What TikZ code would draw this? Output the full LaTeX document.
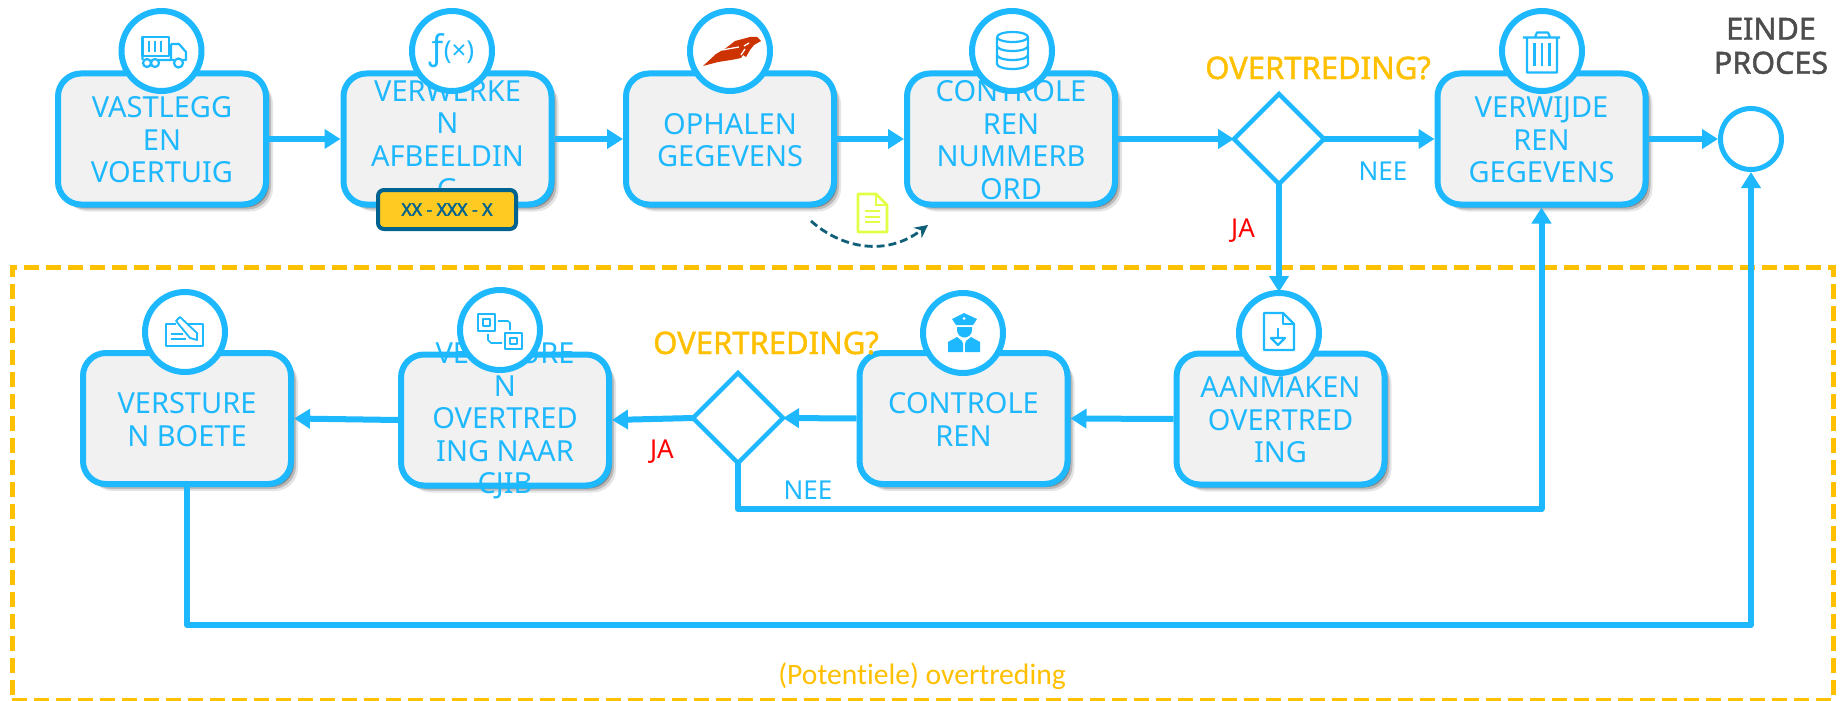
\documentclass[tikz,border=0pt]{standalone}
\usepackage{fontspec}
\setmainfont{Noto Sans}
\newfontfamily\calfont[Ligatures=NoCommon]{Carlito}
\newfontfamily\heavyfont[FakeBold=1.4]{Noto Sans}
\newfontfamily\platefont[FakeBold=2.6]{Noto Sans}
\usetikzlibrary{arrows.meta,shapes.geometric,shadows,calc}
\definecolor{flow}{HTML}{1EB8FF}
\definecolor{boxfill}{HTML}{F1F1F1}
\definecolor{amber}{HTML}{FFC000}
\definecolor{plateblue}{HTML}{00628F}
\definecolor{platefill}{HTML}{FFCA22}
\definecolor{curveblue}{HTML}{0F5F78}
\definecolor{docgreen}{HTML}{E2FF45}
\definecolor{featherred}{HTML}{CC3300}
\definecolor{endgrey}{HTML}{4D4D4D}
\tikzset{
  x=1pt,y=-1pt,
  taskbox/.style={draw=flow,line width=6pt,fill=boxfill,rounded corners=23pt,minimum width=208pt,minimum height=131pt,
    drop shadow={shadow xshift=7pt,shadow yshift=-7pt,fill=black,opacity=.10},
    drop shadow={shadow xshift=5pt,shadow yshift=-5pt,fill=black,opacity=.18},
    drop shadow={shadow xshift=3pt,shadow yshift=-3pt,fill=black,opacity=.28}},
  tasklabel/.style={text=flow,align=center,inner sep=0pt,yshift=-1pt,font=\fontsize{29}{32.6}\selectfont},
  iconring/.style={circle,draw=flow,line width=6pt,fill=white,minimum size=80pt,inner sep=0pt},
  decision/.style={diamond,draw=flow,line width=4.5pt,fill=white,minimum width=90pt,minimum height=90pt,inner sep=0pt,aspect=1,outer sep=0pt},
  flowline/.style={draw=flow,line width=6pt,line join=round,-{Triangle[length=16pt,width=19pt]}},
  question/.style={text=amber,inner sep=0pt,font=\heavyfont\fontsize{31}{36}\selectfont},
  yeslabel/.style={text=red,inner sep=0pt,font=\fontsize{26}{30}\selectfont},
  nolabel/.style={text=flow,inner sep=0pt,font=\fontsize{26}{30}\selectfont},
  iconline/.style={draw=flow,line width=2.2pt,line join=round},
}
\begin{document}
\begin{tikzpicture}
\useasboundingbox (0,0) rectangle (1845,701);
\fill[white] (0,0) rectangle (1845,701);

% dashed region
\node[draw=amber,line width=5pt,dash pattern=on 15pt off 7pt,minimum width=1821pt,minimum height=433pt,inner sep=0pt,outer sep=0pt] (region) at (922.5,483.5) {};
\node[text=amber,inner sep=0pt,font=\calfont\fontsize{29.6}{34}\selectfont] (regionlabel) at (922,676) {(Potentiele) overtreding};

% boxes
\node[taskbox] (b1) at (162,139) {};
\node[taskbox] (b2) at (447.5,139) {};
\node[taskbox] (b3) at (730,139) {};
\node[taskbox] (b4) at (1011,139) {};
\node[taskbox] (b5) at (1541.5,139) {};
\node[taskbox] (b6) at (187,418.5) {};
\node[taskbox] (b7) at (505,420) {};
\node[taskbox] (b8) at (963.5,418.5) {};
\node[taskbox] (b9) at (1280.5,419) {};
\node[decision] (d1) at (1279,139) {};
\node[decision] (d2) at (738,418) {};
\node[circle,draw=flow,line width=5pt,fill=white,minimum size=61pt,inner sep=0pt] (endc) at (1751,139) {};
\coordinate (c1) at (738,509);
\coordinate (c2) at (187,625);

% connectors
\draw[flowline] (b1.east) -- (b2.west);
\draw[flowline] (b2.east) -- (b3.west);
\draw[flowline] (b3.east) -- (b4.west);
\draw[flowline] (b4.east) -- (d1.west);
\draw[flowline] (d1.east) -- (b5.west);
\draw[flowline] (b5.east) -- (endc.west);
\draw[flowline] (d1.south) -- (1279,292);
\draw[flowline] (b9.west) -- (b8.east);
\draw[flowline] (b8.west) -- (d2.east);
\draw[flowline] (d2.west) -- (b7.east);
\draw[flowline] (b7.west) -- (b6.east);
\draw[flowline] (d2.south) -- (c1) -| (b5.south);
\draw[flowline] (b6.south) -- (c2) -| (endc.south);

% box texts
\node[tasklabel] (t1) at (b1) {VASTLEGG\\EN\\VOERTUIG};
\node[tasklabel] (t2) at (b2) {VERWERKE\\N\\AFBEELDIN\\G};
\node[tasklabel] (t3) at (b3) {OPHALEN\\GEGEVENS};
\node[tasklabel] (t4) at (b4) {CONTROLE\\REN\\NUMMERB\\ORD};
\node[tasklabel] (t5) at (b5) {VERWIJDE\\REN\\GEGEVENS};
\node[tasklabel] (t6) at (b6) {VERSTURE\\N BOETE};
\node[tasklabel] (t7) at (b7) {VERSTURE\\N\\OVERTRED\\ING NAAR\\CJIB};
\node[tasklabel] (t8) at (b8) {CONTROLE\\REN};
\node[tasklabel] (t9) at (b9) {AANMAKEN\\OVERTRED\\ING};

% icon rings
\node[iconring] (r1) at (161.5,51) {};
\node[iconring] (r2) at (452,51) {};
\node[iconring] (r3) at (730,51) {};
\node[iconring] (r4) at (1012,51) {};
\node[iconring] (r5) at (1542,51) {};
\node[iconring] (r6) at (185,332) {};
\node[iconring] (r7) at (500,330) {};
\node[iconring] (r8) at (963,333) {};
\node[iconring] (r9) at (1279,333) {};

% plate
\node[draw=plateblue,line width=4pt,fill=platefill,rounded corners=6pt,minimum width=138pt,minimum height=39pt,inner sep=0pt,text=plateblue,font=\platefont\fontsize{17.5}{20}\selectfont] (plate) at (447,209.5) {XX - XXX - X};

% other labels
\node[question] (q1) at (1318,68) {OVERTREDING?};
\node[question] (q2) at (766,343) {OVERTREDING?};
\node[text=endgrey,align=center,inner sep=0pt,font=\heavyfont\fontsize{30.5}{34}\selectfont] (einde) at (1771,46) {EINDE\\PROCES};
\node[nolabel] (n1) at (1383,171) {NEE};
\node[yeslabel] (j1) at (1243,231) {JA};
\node[nolabel] (n2) at (808,490) {NEE};
\node[yeslabel] (j2) at (662,452) {JA};

% dashed curve
\coordinate (cs) at (811,221);
\coordinate (ce) at (928,225);
\draw[curveblue,line width=2.8pt,dash pattern=on 8pt off 4pt,-{Stealth[length=13pt,width=13pt]}] (cs) .. controls (840,247) and (885,258) .. (ce);

% document icon (yellow-green)
\draw[docgreen,line width=2.8pt,line join=round] (858,194) -- (876,194) -- (887,205) -- (887,232) -- (858,232) -- cycle;
\draw[docgreen,line width=2.6pt] (876,194) -- (876,205) -- (887,205);
\draw[docgreen,line width=2.2pt] (865,211) -- (880,211) (865,217) -- (880,217) (865,222) -- (880,222);

% truck
\draw[iconline] (142.5,37) rectangle (169,56);
\draw[iconline,line width=1.8pt] (149,41) -- (149,52) (155,41) -- (155,52) (161,41) -- (161,52);
\draw[iconline] (171,44) -- (179,44) -- (186,52) -- (186,60) -- (183,60) (171,44) -- (171,60) (142.5,56) -- (142.5,60) (157,60) -- (174,60);
\draw[iconline] (147,63) circle (4) (155,63) circle (4) (178.5,63) circle (4.5);
% f(x)
\node[text=flow,inner sep=0pt,font=\fontsize{34}{36}\selectfont] (fx) at (r2) {ƒ{\fontsize{26}{28}\selectfont(×)}};
% feather
\fill[featherred] (703,66) -- (716,54) -- (726,48) -- (735,41) -- (750,37) -- (757,37) -- (761,41) -- (754,45) -- (750,50) -- (746,57) -- (743,55) -- (741,58) -- (731,60) -- (718,62) -- cycle;
\draw[white,line width=1.3pt] (722,50) -- (739,47) (744,46) -- (749,43) (741,55) -- (745,49);
% database
\draw[iconline] (997,37) arc[start angle=180,end angle=-180,x radius=15.5,y radius=5];
\draw[iconline] (997,37) -- (997,64) arc[start angle=180,end angle=0,x radius=15.5,y radius=5] -- (1028,37);
\draw[iconline] (997,46) arc[start angle=180,end angle=0,x radius=15.5,y radius=5];
\draw[iconline] (997,55) arc[start angle=180,end angle=0,x radius=15.5,y radius=5];
% trash
\draw[iconline] (1523,37.5) -- (1560,37.5) (1527,37.5) -- (1527,72.5) -- (1557,72.5) -- (1557,37.5) (1535,37) -- (1537,32.5) -- (1548,32.5) -- (1550,37);
\draw[iconline] (1534.5,43) -- (1534.5,66) (1542,43) -- (1542,66) (1549.5,43) -- (1549.5,66);
% sign/pen
\draw[iconline,line width=1.6pt] (176,324) -- (166,324) -- (166,346) -- (203,346) -- (203,324) -- (187,324);
\draw[iconline,line width=1.6pt] (171,334) -- (183,334) (171,339) -- (186,339);
\draw[iconline,fill=white,line width=1.8pt] (176,321) -- (180,317) -- (197,333) -- (197,340) -- (190,338) -- cycle;
% transfer
\draw[iconline,line width=1.8pt] (478,314) rectangle (495,331) (505,333) rectangle (522,349);
\draw[iconline,line width=1.8pt] (483,319) rectangle (490,326) (510,338) rectangle (517,344);
\draw[iconline,line width=1.6pt] (498,321) -- (508,321) -- (510,323) -- (510,330) (488,334) -- (488,340) -- (491,343) -- (502,343);
% policeman
\fill[flow] (948,352) -- (948,342) -- (957,337) -- (962,341) -- (963,344) -- (963,352) -- cycle;
\fill[flow] (980,352) -- (980,342) -- (971,337) -- (966,341) -- (965,344) -- (965,352) -- cycle;
\fill[flow] (957,327) -- (972,327) -- (972,330) arc[start angle=0,end angle=180,radius=7.5] -- cycle;
\fill[flow] (952,319) -- (964,313) -- (977,319) -- (973,325) -- (956,325) -- cycle;
\fill[white] (964,318.5) circle (1.5);
% doc with arrow
\draw[iconline] (1264,313) -- (1283,313) -- (1294,324) -- (1294,350) -- (1264,350) -- cycle;
\draw[iconline] (1283,313) -- (1283,324) -- (1294,324);
\draw[iconline] (1278,328) -- (1278,337);
\draw[iconline] (1271,338) -- (1285,338) -- (1278,345) -- cycle;
\end{tikzpicture}
\end{document}
